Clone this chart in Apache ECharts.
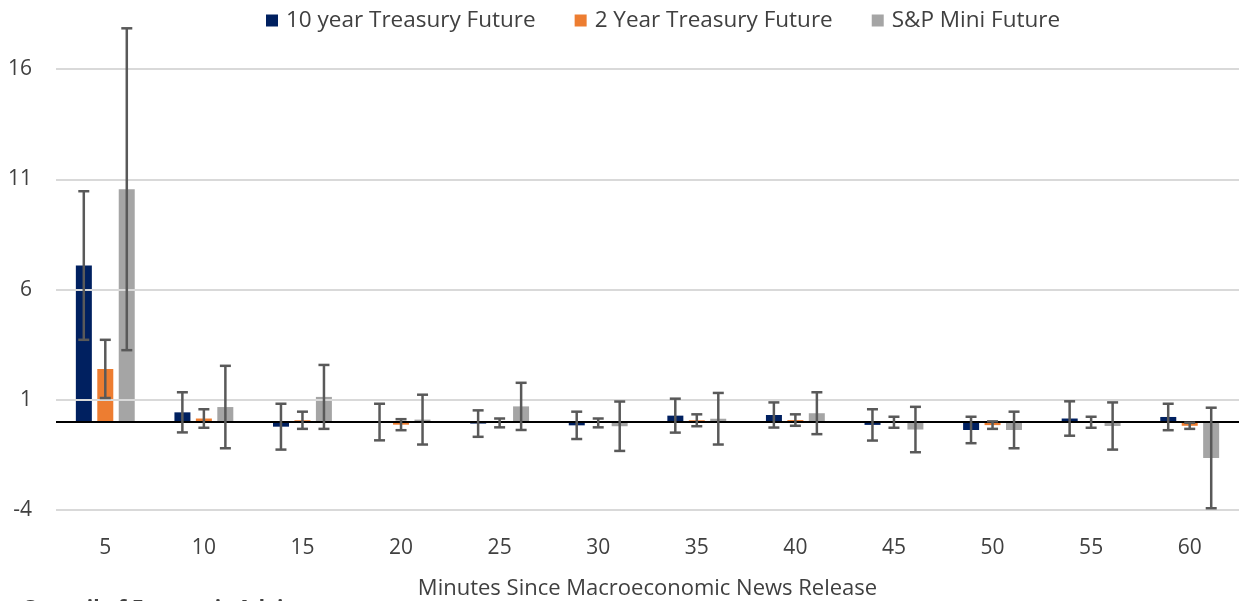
<!DOCTYPE html>
<html>
<head>
<meta charset="utf-8">
<script src="https://cdn.jsdelivr.net/npm/echarts@6/dist/echarts.min.js"></script>
<style>
  html, body { margin: 0; padding: 0; background: #fff; }
  #chart { width: 1239px; height: 601px; }
</style>
</head>
<body>
<div id="chart"></div>
<script>
// minutes after release
var categories = ['5', '10', '15', '20', '25', '30', '35', '40', '45', '50', '55', '60'];
var yTicks = [-4, 1, 6, 11, 16];

var tenYear = [7.09, 0.43, -0.22, -0.01, -0.08, -0.16, 0.28, 0.31, -0.14, -0.37, 0.15, 0.22];
var tenYearErr = [3.37, 0.91, 1.04, 0.83, 0.6, 0.62, 0.77, 0.57, 0.71, 0.6, 0.78, 0.6];

var twoYear = [2.40, 0.15, 0.07, -0.13, -0.05, -0.05, 0.07, 0.08, -0.02, -0.15, -0.02, -0.18];
var twoYearErr = [1.32, 0.42, 0.39, 0.25, 0.2, 0.2, 0.27, 0.26, 0.25, 0.17, 0.25, 0.14];

var spMini = [10.55, 0.67, 1.13, 0.1, 0.7, -0.2, 0.14, 0.39, -0.35, -0.37, -0.19, -1.64];
var spMiniErr = [7.3, 1.87, 1.45, 1.13, 1.07, 1.12, 1.17, 0.95, 1.03, 0.83, 1.07, 2.28];

var seriesNames = ['10 year Treasury Future', '2 Year Treasury Future', 'S&P Mini Future'];
var colors = ['#002060', '#ED7D31', '#A5A5A5'];

var chart = echarts.init(document.getElementById('chart'));
var font = '"Open Sans", sans-serif';

function errData(vals, errs) {
    return vals.map(function (v, i) { return [i, v - errs[i], v + errs[i]]; });
}

function errSeries(vals, errs, offset) {
    return {
        type: 'custom',
        silent: true,
        z: 5,
        data: errData(vals, errs),
        encode: { x: 0, y: [1, 2] },
        renderItem: function (params, api) {
            var lo = api.coord([api.value(0), api.value(1)]);
            var hi = api.coord([api.value(0), api.value(2)]);
            var x = lo[0] + offset;
            var cap = 5.5;
            var style = { stroke: '#595959', lineWidth: 2.5 };
            return {
                type: 'group',
                children: [
                    { type: 'line', shape: { x1: x, y1: hi[1], x2: x, y2: lo[1] }, style: style },
                    { type: 'line', shape: { x1: x - cap, y1: hi[1], x2: x + cap, y2: hi[1] }, style: style },
                    { type: 'line', shape: { x1: x - cap, y1: lo[1], x2: x + cap, y2: lo[1] }, style: style }
                ]
            };
        }
    };
}

// gridlines drawn as markLines so the cut-off top of the axis has no line
var gridLines = yTicks.map(function (t) {
    return { yAxis: t, lineStyle: { color: '#D9D9D9', width: 2, type: 'solid' } };
});
gridLines.push({ yAxis: 0, lineStyle: { color: '#000', width: 2, type: 'solid' } });

var option = {
    animation: false,
    textStyle: { fontFamily: font },
    color: colors,
    legend: {
        top: 4,
        left: 261,
        icon: 'rect',
        itemWidth: 12,
        itemHeight: 12,
        itemGap: 39,
        data: seriesNames,
        textStyle: { fontSize: 22.5, color: '#404040', fontFamily: font, padding: [0, 0, 0, 3] }
    },
    grid: { left: 56, top: 25, width: 1183, height: 485, outerBoundsMode: 'none', containLabel: false },
    xAxis: {
        type: 'category',
        data: categories,
        axisLine: { show: false, onZero: false },
        axisTick: { show: false },
        axisLabel: { fontSize: 21, color: '#404040', margin: 28 },
        name: 'Minutes Since Macroeconomic News Release',
        nameLocation: 'middle',
        nameGap: 68,
        nameTextStyle: { fontSize: 22, color: '#404040' }
    },
    yAxis: {
        type: 'value',
        min: -4,
        max: 18,
        interval: 5,
        axisLine: { show: false },
        axisTick: { show: false },
        axisLabel: { fontSize: 21, color: '#404040', margin: 24, showMaxLabel: false },
        splitLine: { show: false }
    },
    graphic: [{
        type: 'text',
        left: 22,
        top: 599,
        style: { text: 'Council of Economic Advisers', fontSize: 21, fontWeight: 'bold', fill: '#404040', fontFamily: font }
    }],
    series: [
        {
            name: seriesNames[0], type: 'bar', data: tenYear, barWidth: 16, barGap: '34%',
            markLine: {
                silent: true, symbol: 'none', label: { show: false },
                data: gridLines
            }
        },
        { name: seriesNames[1], type: 'bar', data: twoYear, barWidth: 16, barGap: '34%' },
        { name: seriesNames[2], type: 'bar', data: spMini, barWidth: 16, barGap: '34%' },
        errSeries(tenYear, tenYearErr, -21.5),
        errSeries(twoYear, twoYearErr, 0),
        errSeries(spMini, spMiniErr, 21.5)
    ]
};

chart.setOption(option);
</script>
</body>
</html>
